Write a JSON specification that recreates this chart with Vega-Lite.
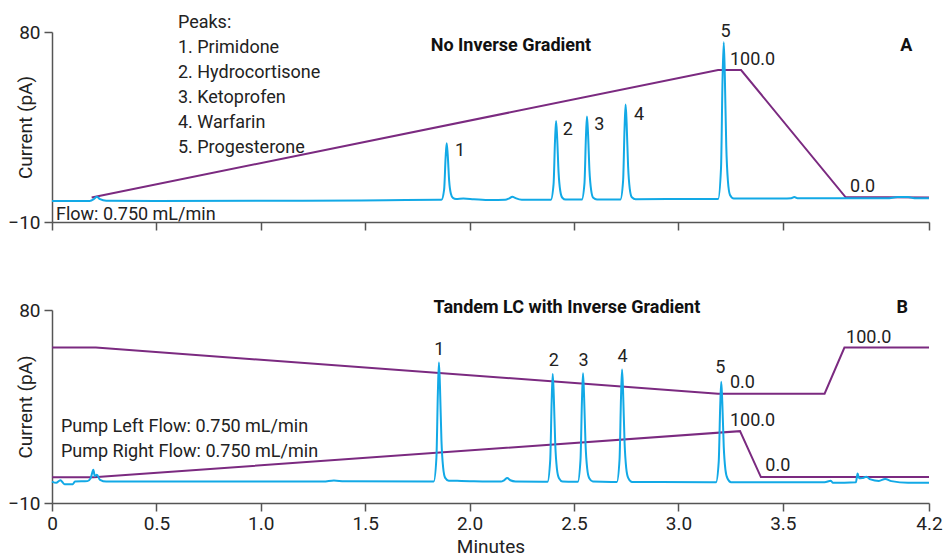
{
  "$schema": "https://vega.github.io/schema/vega-lite/v6.json",
  "padding": {"left": 7, "top": 14, "right": 0, "bottom": 0},
  "datasets": {
    "traceA": [
      {"t":0,"v":0},{"t":0.18,"v":0},{"t":0.2,"v":0.8},{"t":0.215,"v":2.0},{"t":0.23,"v":0.8},{"t":0.26,"v":0.1},{"t":0.5,"v":0},{"t":1.2,"v":0.1},{"t":1.6,"v":0.3},{"t":1.85,"v":0.5},
      {"t":1.865,"v":0.5},{"t":1.878,"v":5.5},{"t":1.885,"v":20.5},{"t":1.89,"v":27.3},{"t":1.895,"v":22},{"t":1.902,"v":9.5},{"t":1.91,"v":3.5},{"t":1.92,"v":1.4},{"t":1.935,"v":0.9},{"t":1.97,"v":1.1},{"t":2.02,"v":0.8},{"t":2.1,"v":0.4},{"t":2.17,"v":0.5},{"t":2.19,"v":1.2},{"t":2.205,"v":2.0},{"t":2.22,"v":1.3},{"t":2.25,"v":0.5},{"t":2.35,"v":0.5},
      {"t":2.389,"v":0.5},{"t":2.402,"v":7.9},{"t":2.409,"v":28.6},{"t":2.414,"v":37.9},{"t":2.419,"v":30.4},{"t":2.426,"v":13.5},{"t":2.434,"v":4.8},{"t":2.444,"v":1.5},{"t":2.46,"v":0.6},{"t":2.52,"v":0.6},
      {"t":2.537,"v":0.6},{"t":2.55,"v":8.3},{"t":2.557,"v":30.2},{"t":2.562,"v":40},{"t":2.567,"v":32.1},{"t":2.574,"v":14.2},{"t":2.582,"v":5.1},{"t":2.592,"v":1.5},{"t":2.61,"v":0.7},{"t":2.7,"v":0.7},
      {"t":2.722,"v":0.7},{"t":2.735,"v":9.5},{"t":2.742,"v":34.4},{"t":2.747,"v":45.6},{"t":2.752,"v":36.6},{"t":2.759,"v":16.3},{"t":2.767,"v":5.7},{"t":2.777,"v":1.7},{"t":2.795,"v":0.8},{"t":3.1,"v":0.9},
      {"t":3.19,"v":0.9},{"t":3.204,"v":15.5},{"t":3.211,"v":56.3},{"t":3.217,"v":75.1},{"t":3.222,"v":60.2},{"t":3.229,"v":26.3},{"t":3.237,"v":9.4},{"t":3.247,"v":2.8},{"t":3.265,"v":1.1},{"t":3.5,"v":1.1},{"t":3.54,"v":1.2},{"t":3.555,"v":1.8},{"t":3.57,"v":1.2},{"t":4.0,"v":1.2},{"t":4.05,"v":1.8},{"t":4.1,"v":1.8},{"t":4.13,"v":1.3},{"t":4.2,"v":1.3}
    ],
    "gradA": [
      {"t":0.19,"v":1.6},{"t":3.19,"v":62},{"t":3.30,"v":62},{"t":3.80,"v":1.8},{"t":4.2,"v":1.6}
    ],
    "leftA": [
      {"t":0.603,"v":81.7,"s":"Peaks:"},
      {"t":0.603,"v":69.9,"s":"1. Primidone"},
      {"t":0.603,"v":58.1,"s":"2. Hydrocortisone"},
      {"t":0.603,"v":46.2,"s":"3. Ketoprofen"},
      {"t":0.603,"v":34.4,"s":"4. Warfarin"},
      {"t":0.603,"v":22.5,"s":"5. Progesterone"},
      {"t":0.019,"v":-9.2,"s":"Flow: 0.750 mL/min"},
      {"t":1.930,"v":21.4,"s":"1"},
      {"t":2.446,"v":31.4,"s":"2"},
      {"t":2.597,"v":33.5,"s":"3"},
      {"t":2.787,"v":38.5,"s":"4"},
      {"t":3.247,"v":64.6,"s":"100.0"},
      {"t":3.822,"v":4.2,"s":"0.0"}
    ],
    "centerA": [
      {"t":3.226,"v":77.8,"s":"5"}
    ],
    "boldA": [
      {"t":2.198,"v":71.0,"s":"No Inverse Gradient"},
      {"t":4.091,"v":71.0,"s":"A"}
    ],
    "traceB": [
      {"t":0,"v":0},{"t":0.02,"v":-0.6},{"t":0.04,"v":0.6},{"t":0.06,"v":-1.2},{"t":0.1,"v":-1.2},{"t":0.11,"v":0},{"t":0.17,"v":0.2},{"t":0.185,"v":1.5},{"t":0.198,"v":5.5},{"t":0.205,"v":2.5},{"t":0.215,"v":3.2},{"t":0.23,"v":0.8},{"t":0.26,"v":0},{"t":1.3,"v":0},{"t":1.35,"v":0.5},{"t":1.4,"v":0.1},{"t":1.8,"v":0},
      {"t":1.828,"v":0},{"t":1.841,"v":11.1},{"t":1.848,"v":41.6},{"t":1.853,"v":55.5},{"t":1.858,"v":44.4},{"t":1.865,"v":19.4},{"t":1.873,"v":6.7},{"t":1.883,"v":1.7},{"t":1.9,"v":0.4},{"t":1.96,"v":0.3},{"t":2.15,"v":0},{"t":2.165,"v":0.6},{"t":2.18,"v":1.6},{"t":2.195,"v":0.6},{"t":2.22,"v":0},{"t":2.35,"v":-0.1},
      {"t":2.373,"v":-0.1},{"t":2.386,"v":10},{"t":2.393,"v":37.7},{"t":2.398,"v":50.2},{"t":2.403,"v":40.2},{"t":2.41,"v":17.6},{"t":2.418,"v":6},{"t":2.428,"v":1.5},{"t":2.445,"v":0},{"t":2.5,"v":-0.1},
      {"t":2.518,"v":-0.1},{"t":2.531,"v":10.1},{"t":2.538,"v":37.9},{"t":2.543,"v":50.5},{"t":2.548,"v":40.4},{"t":2.555,"v":17.7},{"t":2.563,"v":6.1},{"t":2.573,"v":1.5},{"t":2.59,"v":0},{"t":2.68,"v":-0.2},
      {"t":2.705,"v":-0.2},{"t":2.718,"v":10.4},{"t":2.725,"v":39.2},{"t":2.73,"v":52.2},{"t":2.735,"v":41.8},{"t":2.742,"v":18.3},{"t":2.75,"v":6.3},{"t":2.76,"v":1.6},{"t":2.778,"v":-0.2},{"t":3.15,"v":-0.3},
      {"t":3.18,"v":-0.3},{"t":3.193,"v":9.3},{"t":3.2,"v":34.9},{"t":3.205,"v":46.5},{"t":3.21,"v":37.2},{"t":3.217,"v":16.3},{"t":3.225,"v":5.6},{"t":3.235,"v":1.4},{"t":3.252,"v":-0.3},{"t":3.7,"v":-0.3},{"t":3.73,"v":0.4},{"t":3.74,"v":-0.6},{"t":3.85,"v":-0.3},{"t":3.858,"v":3.8},{"t":3.865,"v":1.5},{"t":3.88,"v":1.6},{"t":3.9,"v":2.2},{"t":3.92,"v":1.0},{"t":3.96,"v":0.3},{"t":3.99,"v":1.2},{"t":4.02,"v":0.2},{"t":4.1,"v":-0.6},{"t":4.2,"v":-0.5}
    ],
    "gradB": [
      {"g":"left","t":0,"v":62.5},{"g":"left","t":0.21,"v":62.5},{"g":"left","t":3.19,"v":41},{"g":"left","t":3.70,"v":41},{"g":"left","t":3.795,"v":62.5},{"g":"left","t":4.2,"v":62.5},
      {"g":"right","t":0,"v":2},{"g":"right","t":0.2,"v":2},{"g":"right","t":3.295,"v":23.5},{"g":"right","t":3.395,"v":2.1},{"g":"right","t":4.2,"v":2.1}
    ],
    "leftB": [
      {"t":0.043,"v":22.9,"s":"Pump Left Flow: 0.750 mL/min"},
      {"t":0.043,"v":11.3,"s":"Pump Right Flow: 0.750 mL/min"},
      {"t":3.247,"v":43.8,"s":"0.0"},
      {"t":3.803,"v":64.8,"s":"100.0"},
      {"t":3.247,"v":26.0,"s":"100.0"},
      {"t":3.416,"v":5.1,"s":"0.0"}
    ],
    "centerB": [
      {"t":1.855,"v":59.1,"s":"1"},
      {"t":2.403,"v":53.9,"s":"2"},
      {"t":2.546,"v":53.9,"s":"3"},
      {"t":2.733,"v":55.8,"s":"4"},
      {"t":3.201,"v":50.4,"s":"5"}
    ],
    "boldB": [
      {"t":2.466,"v":78.7,"s":"Tandem LC with Inverse Gradient"},
      {"t":4.072,"v":78.7,"s":"B"}
    ]
  },
  "vconcat": [
    {
      "width": 877,
      "height": 190,
      "layer": [
        {
          "data": {"name": "gradA"},
          "mark": {"type": "line", "color": "#7b2a80", "strokeWidth": 2},
          "encoding": {
            "x": {"field": "t", "type": "quantitative", "scale": {"domain": [0, 4.2], "nice": false, "zero": false},
                  "axis": {"values": [0,0.5,1,1.5,2,2.5,3,3.5,4.2], "labels": false, "title": null}},
            "y": {"field": "v", "type": "quantitative", "scale": {"domain": [-10, 80], "nice": false, "zero": false},
                  "axis": {"values": [-10, 80], "title": "Current (pA)", "titleX": -21, "titleY": 95, "titleBaseline": "alphabetic", "titleAlign": "center"}}
          }
        },
        {
          "data": {"name": "traceA"},
          "mark": {"type": "line", "color": "#12a9e6", "strokeWidth": 2, "interpolate": "monotone"},
          "encoding": {
            "x": {"field": "t", "type": "quantitative"},
            "y": {"field": "v", "type": "quantitative"}
          }
        },
        {
          "data": {"name": "leftA"},
          "mark": {"type": "text", "align": "left", "baseline": "alphabetic", "fontSize": 18, "color": "#222222"},
          "encoding": {
            "x": {"field": "t", "type": "quantitative"},
            "y": {"field": "v", "type": "quantitative"},
            "text": {"field": "s"}
          }
        },
        {
          "data": {"name": "centerA"},
          "mark": {"type": "text", "align": "center", "baseline": "alphabetic", "fontSize": 18, "color": "#222222"},
          "encoding": {
            "x": {"field": "t", "type": "quantitative"},
            "y": {"field": "v", "type": "quantitative"},
            "text": {"field": "s"}
          }
        },
        {
          "data": {"name": "boldA"},
          "mark": {"type": "text", "align": "center", "baseline": "alphabetic", "fontSize": 18, "fontWeight": "bold", "color": "#111111"},
          "encoding": {
            "x": {"field": "t", "type": "quantitative"},
            "y": {"field": "v", "type": "quantitative"},
            "text": {"field": "s"}
          }
        }
      ]
    },
    {
      "width": 877,
      "height": 193,
      "layer": [
        {
          "data": {"name": "gradB"},
          "mark": {"type": "line", "color": "#7b2a80", "strokeWidth": 2},
          "encoding": {
            "x": {"field": "t", "type": "quantitative", "scale": {"domain": [0, 4.2], "nice": false, "zero": false},
                  "axis": {"values": [0,0.5,1,1.5,2,2.5,3,3.5,4.2], "title": "Minutes", "labelExpr": "datum.value === 0 ? '0' : format(datum.value, '.1f')", "labelFlush": false, "labelPadding": 3, "titleY": 49, "titleBaseline": "alphabetic"}},
            "y": {"field": "v", "type": "quantitative", "scale": {"domain": [-10, 80], "nice": false, "zero": false},
                  "axis": {"values": [-10, 80], "title": "Current (pA)", "titleX": -21, "titleY": 96.5, "titleBaseline": "alphabetic", "titleAlign": "center"}},
            "detail": {"field": "g"}
          }
        },
        {
          "data": {"name": "traceB"},
          "mark": {"type": "line", "color": "#12a9e6", "strokeWidth": 2, "interpolate": "monotone"},
          "encoding": {
            "x": {"field": "t", "type": "quantitative"},
            "y": {"field": "v", "type": "quantitative"}
          }
        },
        {
          "data": {"name": "leftB"},
          "mark": {"type": "text", "align": "left", "baseline": "alphabetic", "fontSize": 18, "color": "#222222"},
          "encoding": {
            "x": {"field": "t", "type": "quantitative"},
            "y": {"field": "v", "type": "quantitative"},
            "text": {"field": "s"}
          }
        },
        {
          "data": {"name": "centerB"},
          "mark": {"type": "text", "align": "center", "baseline": "alphabetic", "fontSize": 18, "color": "#222222"},
          "encoding": {
            "x": {"field": "t", "type": "quantitative"},
            "y": {"field": "v", "type": "quantitative"},
            "text": {"field": "s"}
          }
        },
        {
          "data": {"name": "boldB"},
          "mark": {"type": "text", "align": "center", "baseline": "alphabetic", "fontSize": 18, "fontWeight": "bold", "color": "#111111"},
          "encoding": {
            "x": {"field": "t", "type": "quantitative"},
            "y": {"field": "v", "type": "quantitative"},
            "text": {"field": "s"}
          }
        }
      ]
    }
  ],
  "spacing": 88,
  "bounds": "flush",
  "config": {
    "font": "Roboto",
    "view": {"stroke": null},
    "axis": {
      "grid": false,
      "domainColor": "#555555",
      "tickColor": "#555555",
      "domainWidth": 1.5,
      "tickWidth": 1.5,
      "tickSize": 8,
      "labelFont": "Roboto",
      "labelFontSize": 19,
      "labelColor": "#222222",
      "labelPadding": 4,
      "titleFont": "Roboto",
      "titleFontSize": 19,
      "titleFontWeight": "normal",
      "titleColor": "#222222"
    }
  }
}
